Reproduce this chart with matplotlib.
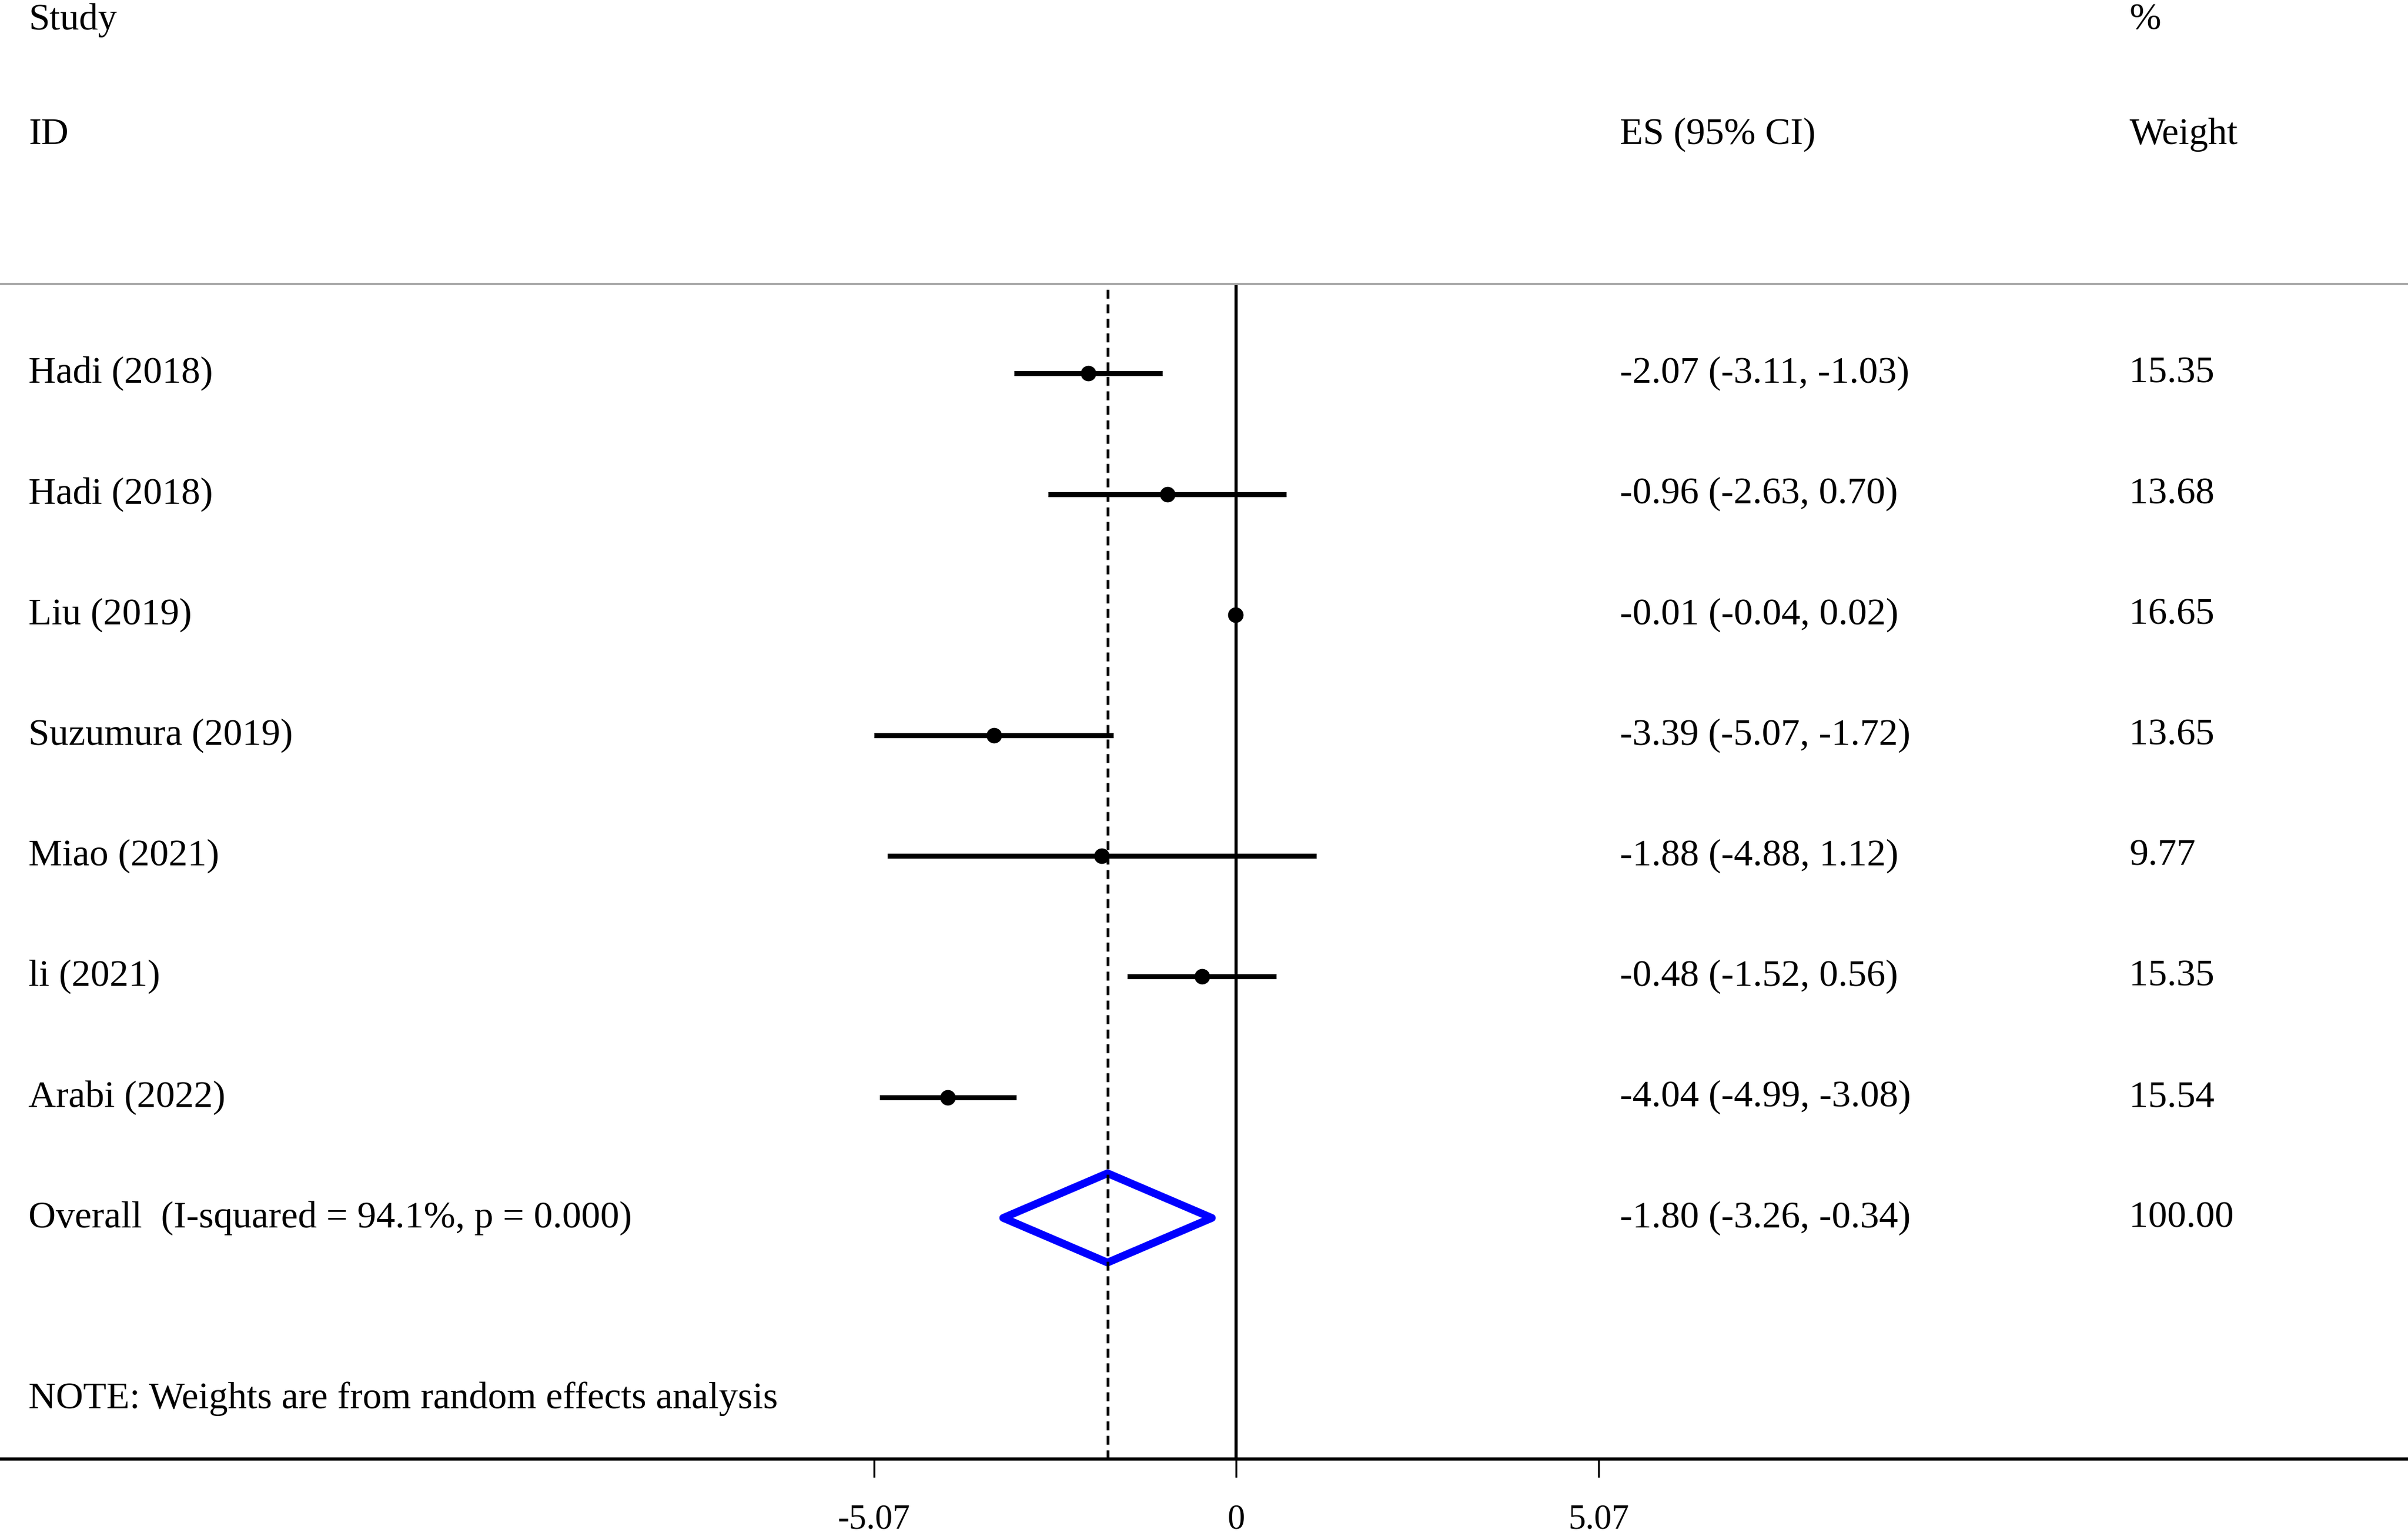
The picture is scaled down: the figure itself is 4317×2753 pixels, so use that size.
import matplotlib.pyplot as plt
from matplotlib.patches import Polygon

plt.rcParams["font.family"] = ["Liberation Serif", "DejaVu Serif"]
plt.rcParams["font.size"] = 49

studies = ["Hadi (2018)", "Hadi (2018)", "Liu (2019)", "Suzumura (2019)",
           "Miao (2021)", "li (2021)", "Arabi (2022)"]
es = [-2.07, -0.96, -0.01, -3.39, -1.88, -0.48, -4.04]
ci_low = [-3.11, -2.63, -0.04, -5.07, -4.88, -1.52, -4.99]
ci_high = [-1.03, 0.70, 0.02, -1.72, 1.12, 0.56, -3.08]
weights = [15.35, 13.68, 16.65, 13.65, 9.77, 15.35, 15.54]

overall_label = "Overall  (I-squared = 94.1%, p = 0.000)"
overall_es = -1.80
overall_low = -3.26
overall_high = -0.34
overall_weight = 100.00

xticks = [-5.07, 0, 5.07]
xticklabels = ["-5.07", "0", "5.07"]

fig = plt.figure(figsize=(43.17, 27.53), dpi=100)
ax = fig.add_axes([0, 0.05, 1, 0.765])
ax.set_xlim(-17.3, 16.4)
ax.set_ylim(9.0, -0.74)

for s in ["left", "right"]:
    ax.spines[s].set_visible(False)
ax.spines["top"].set_color("#a8a8a8")
ax.spines["top"].set_linewidth(3)
ax.spines["bottom"].set_linewidth(4)
ax.set_yticks([])
ax.set_xticks(xticks, xticklabels)
ax.tick_params(axis="x", length=24, width=2.5, pad=34, labelsize=45)

ax.axvline(0, color="black", lw=4)
ax.axvline(overall_es, color="black", lw=3.6, ls=(0, (3.2, 2.0)))

rows = list(range(len(studies)))
ax.hlines(rows, ci_low, ci_high, color="black", lw=6.5)
ax.plot(es, rows, "o", color="black", ms=19)

oy = len(studies)
diamond = Polygon([[overall_low, oy], [overall_es, oy - 0.37],
                   [overall_high, oy], [overall_es, oy + 0.37]],
                  closed=True, fill=False, edgecolor="#0000ff", lw=10,
                  joinstyle="round")
ax.add_patch(diamond)

x_name, x_es, x_w = -16.9, 5.37, 12.5
txt = dict(va="center", ha="left", clip_on=False)
ax.text(x_name, -2.93, "Study", **txt)
ax.text(x_w, -2.93, "%", **txt)
ax.text(x_name, -1.98, "ID", **txt)
ax.text(x_es, -1.98, "ES (95% CI)", **txt)
ax.text(x_w, -1.98, "Weight", **txt)

for i, name in enumerate(studies):
    ax.text(x_name, i, name, **txt)
    ax.text(x_es, i, f"{es[i]:.2f} ({ci_low[i]:.2f}, {ci_high[i]:.2f})", **txt)
    ax.text(x_w, i, f"{weights[i]:.2f}", **txt)

ax.text(x_name, oy, overall_label, **txt)
ax.text(x_es, oy, f"{overall_es:.2f} ({overall_low:.2f}, {overall_high:.2f})", **txt)
ax.text(x_w, oy, f"{overall_weight:.2f}", **txt)

ax.text(x_name, 8.5, "NOTE: Weights are from random effects analysis", **txt)

fig.savefig("out.png", dpi=100)
